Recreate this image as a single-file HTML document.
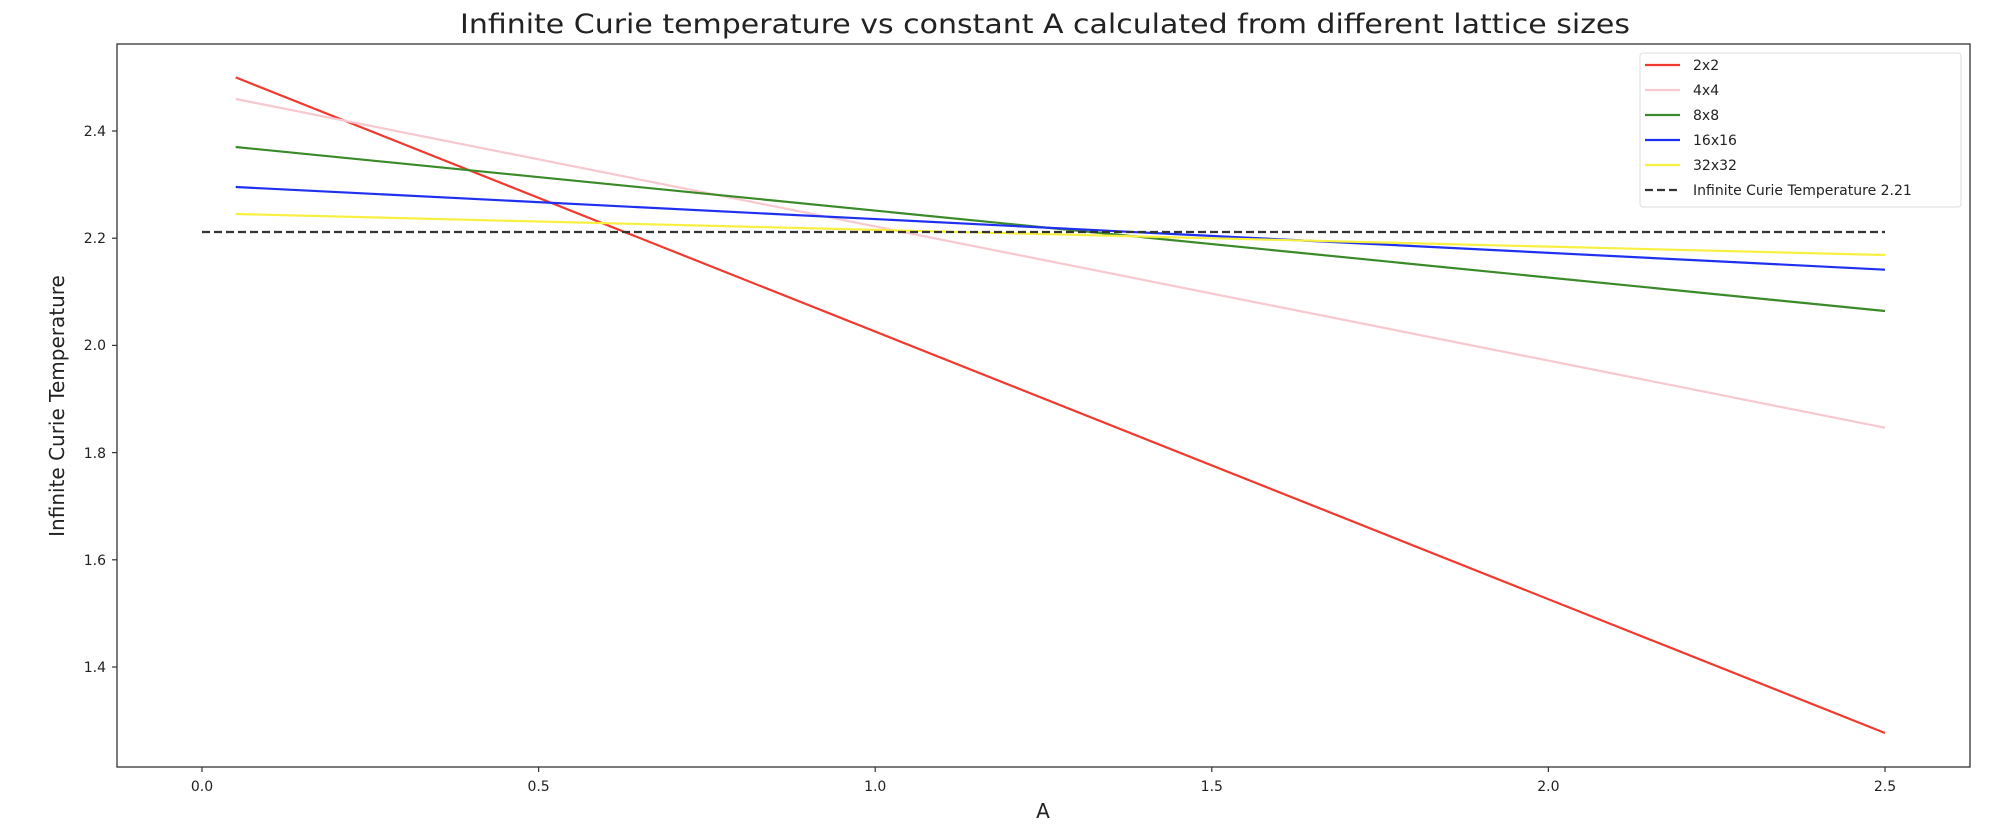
<!DOCTYPE html>
<html><head><meta charset="utf-8"><style>html,body{margin:0;padding:0;background:#fff}svg{display:block}</style></head>
<body>
<svg width="2000" height="838" xmlns="http://www.w3.org/2000/svg" font-family="DejaVu Sans, Liberation Sans, sans-serif">
<rect width="2000" height="838" fill="#fff"/>
<text x="460" y="33" font-size="27" fill="#222" textLength="1170" lengthAdjust="spacingAndGlyphs">Infinite Curie temperature vs constant A calculated from different lattice sizes</text>
<g stroke-width="2.2" fill="none">
<line x1="235.7" y1="77.4" x2="1885" y2="733" stroke="#f03a2f"/>
<line x1="235.7" y1="99" x2="1885" y2="427.7" stroke="#f8c8cf"/>
<line x1="235.7" y1="147" x2="1885" y2="311" stroke="#3a8a2a"/>
<line x1="235.7" y1="187" x2="1885" y2="269.7" stroke="#2030f0"/>
<line x1="235.7" y1="214" x2="1885" y2="255" stroke="#f8f040"/>
<line x1="202" y1="232" x2="1885" y2="232" stroke="#333" stroke-dasharray="8,4"/>
</g>
<rect x="117" y="44" width="1853" height="723" fill="none" stroke="#333" stroke-width="1.3"/>
<g stroke="#333" stroke-width="1.2">
<line x1="202" y1="767" x2="202" y2="772"/><line x1="538.6" y1="767" x2="538.6" y2="772"/><line x1="875.2" y1="767" x2="875.2" y2="772"/><line x1="1211.8" y1="767" x2="1211.8" y2="772"/><line x1="1548.4" y1="767" x2="1548.4" y2="772"/><line x1="1885" y1="767" x2="1885" y2="772"/>
<line x1="112" y1="131" x2="117" y2="131"/><line x1="112" y1="238.2" x2="117" y2="238.2"/><line x1="112" y1="345.4" x2="117" y2="345.4"/><line x1="112" y1="452.6" x2="117" y2="452.6"/><line x1="112" y1="559.8" x2="117" y2="559.8"/><line x1="112" y1="667" x2="117" y2="667"/>
</g>
<g font-size="14" fill="#222" text-anchor="middle">
<text x="202" y="791">0.0</text><text x="538.6" y="791">0.5</text><text x="875.2" y="791">1.0</text><text x="1211.8" y="791">1.5</text><text x="1548.4" y="791">2.0</text><text x="1885" y="791">2.5</text>
</g>
<g font-size="14" fill="#222" text-anchor="end">
<text x="106" y="136">2.4</text><text x="106" y="243">2.2</text><text x="106" y="350">2.0</text><text x="106" y="458">1.8</text><text x="106" y="565">1.6</text><text x="106" y="672">1.4</text>
</g>
<text x="1043" y="818" font-size="20" fill="#222" text-anchor="middle">A</text>
<text transform="translate(64,406) rotate(-90)" font-size="20" fill="#222" text-anchor="middle">Infinite Curie Temperature</text>
<rect x="1640" y="53" width="321" height="154" rx="3" fill="#fff" stroke="#ddd" stroke-width="1"/>
<g stroke-width="2.2">
<line x1="1645" y1="65" x2="1680" y2="65" stroke="#f03a2f"/>
<line x1="1645" y1="90" x2="1680" y2="90" stroke="#f8c8cf"/>
<line x1="1645" y1="115" x2="1680" y2="115" stroke="#3a8a2a"/>
<line x1="1645" y1="140" x2="1680" y2="140" stroke="#2030f0"/>
<line x1="1645" y1="165" x2="1680" y2="165" stroke="#f8f040"/>
<line x1="1645" y1="190" x2="1680" y2="190" stroke="#333" stroke-dasharray="8,4"/>
</g>
<g font-size="14" fill="#222">
<text x="1693" y="70">2x2</text><text x="1693" y="95">4x4</text><text x="1693" y="120">8x8</text><text x="1693" y="145">16x16</text><text x="1693" y="170">32x32</text><text x="1693" y="195">Infinite Curie Temperature 2.21</text>
</g>
</svg>
</body></html>
